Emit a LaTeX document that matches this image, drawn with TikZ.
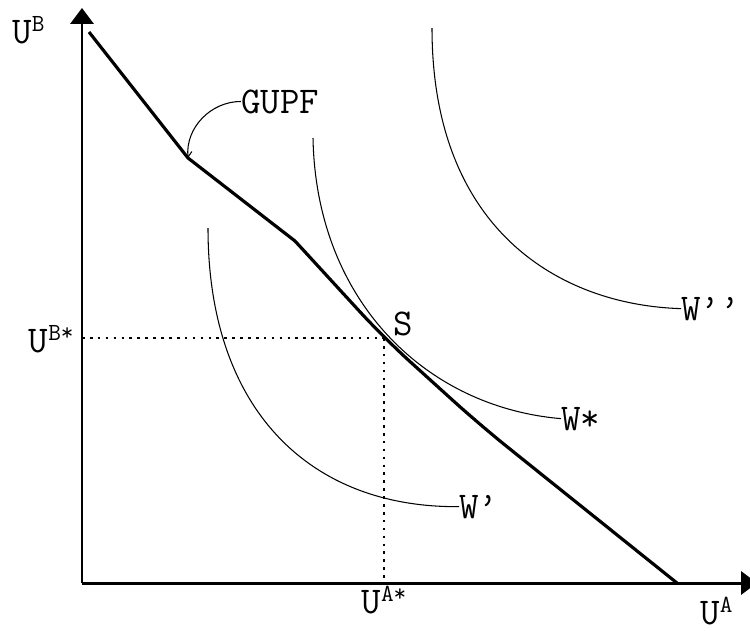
\documentclass[tikz,border=0pt]{standalone}
\usepackage{fontspec}
\usetikzlibrary{arrows.meta}
\newcommand{\upidx}[1]{\raisebox{6.5pt}{\fontsize{14}{15}\selectfont #1}}

\begin{document}
\begin{tikzpicture}[x=0.02cm, y=-0.02cm,
    every node/.style={font=\ttfamily\fontsize{21.5}{24}\selectfont, inner sep=0pt},
    axis/.style={line width=1.7pt, -{Triangle[length=9pt,width=13pt]}},
    upf/.style={line width=1.8pt},
    icurve/.style={line width=0.6pt},
    guide/.style={line width=0.6pt, dash pattern=on 1.5pt off 3pt}]
  \useasboundingbox (0,0) rectangle (750,630);

  % Achsen
  \coordinate (O) at (82,583);
  \coordinate (ytop) at (82,8);
  \coordinate (xend) at (757,583);
  \draw[axis] (O) -- (ytop);
  \draw[axis] (O) -- (xend);
  \node[anchor=base west] (ub) at (12,43) {U\upidx{B}};
  \node[anchor=base west] (ua) at (700,624) {U\upidx{A}};

  % Nutzenmoeglichkeitsgrenze
  \coordinate (kink) at (188,158);
  \coordinate (S) at (384,338);
  \draw[upf] (89,32) -- (kink) -- (295,241) [rounded corners=20pt] -- (S) -- (480,425) -- (677,583);
  \node[anchor=base west] (slbl) at (393,335) {S};

  % Wohlfahrtskurven
  \node[anchor=base west] (w1) at (459,518) {W’};
  \node[anchor=base west] (w2) at (561,430) {W*};
  \node[anchor=base west] (w3) at (681,320) {W’’};
  \draw[icurve] (208,228) .. controls (208,410) and (310,508) .. (w1.west);
  \draw[icurve] (313,138) .. controls (316,300) and (425,407) .. (w2.west);
  \draw[icurve] (432,28) .. controls (432,230) and (560,305) .. (w3.west);

  % Beschriftung GUPF
  \node[anchor=base west] (gupf) at (241,113) {GUPF};
  \draw[icurve, -{Straight Barb[length=3pt,width=5pt]}] (gupf.west) to[out=180, in=95] (kink);

  % Hilfslinien
  \draw[guide] (O |- S) -- (S);
  \draw[guide] (S) -- (S |- O);
  \node[anchor=base east] (ubs) at (74,352) {U\upidx{B*}};
  \node[anchor=base] (uas) at (384,613) {U\upidx{A*}};
\end{tikzpicture}
\end{document}
